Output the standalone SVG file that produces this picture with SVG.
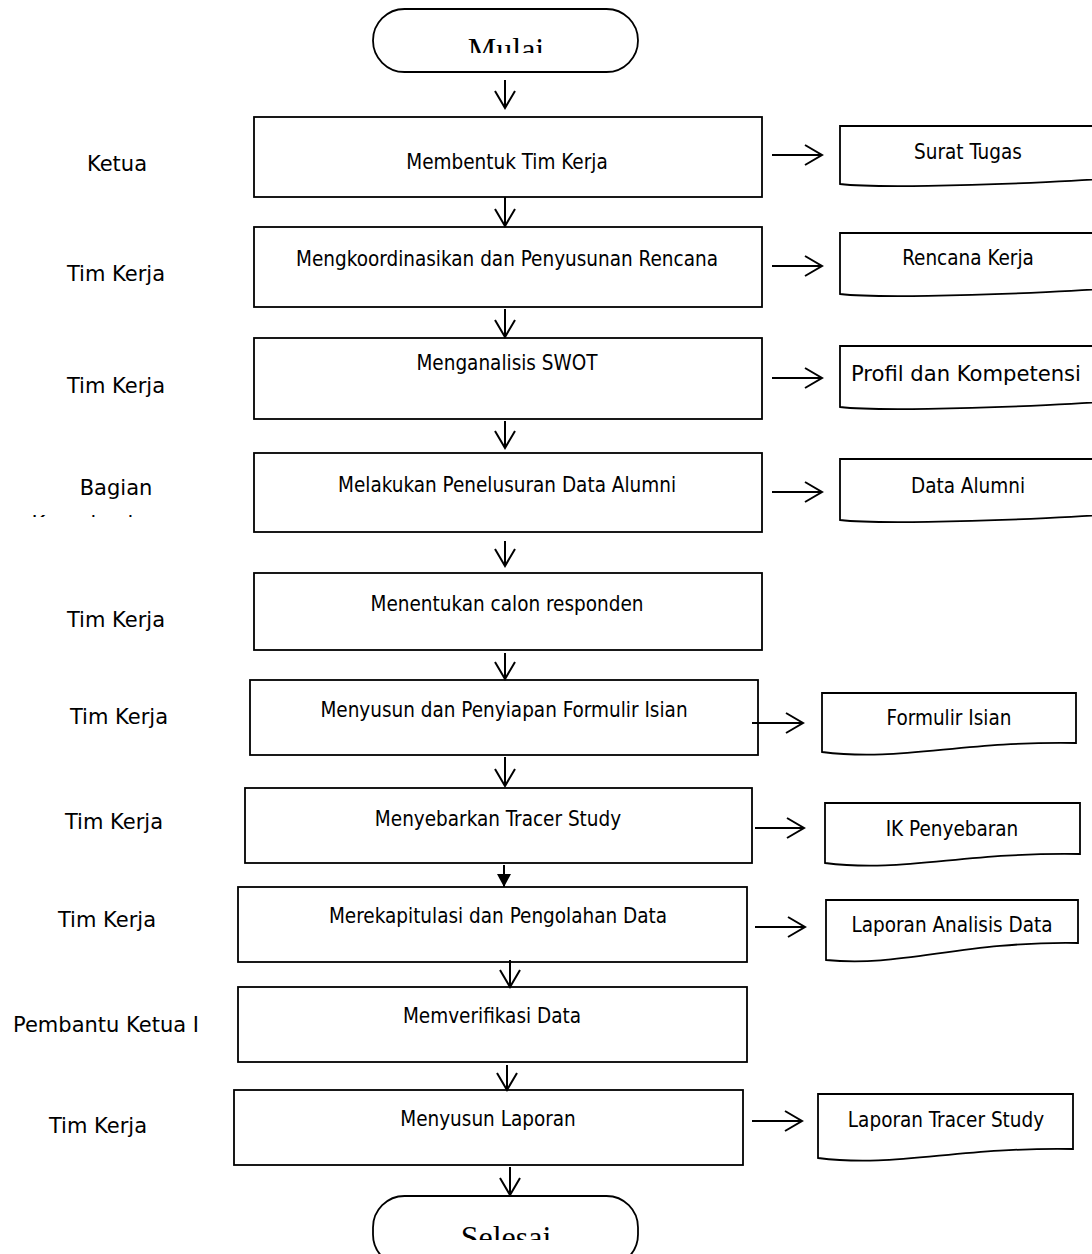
<svg xmlns="http://www.w3.org/2000/svg" width="1092" height="1254" viewBox="0 0 1092 1254">
<style>
.box{fill:#fff;stroke:#000;stroke-width:1.8}
.doc{fill:#fff;stroke:#000;stroke-width:1.8}
.t{font-family:"DejaVu Sans Condensed","DejaVu Sans",Verdana,sans-serif;font-stretch:condensed;font-size:20.5px;fill:#000;text-anchor:middle}
.lbl{font-family:"DejaVu Sans",Verdana,sans-serif;font-size:21px;fill:#000;text-anchor:middle}
.term{font-family:"Liberation Serif","Times New Roman",serif;font-size:32px;fill:#000;text-anchor:middle}
.c{stroke:#000;stroke-width:2;fill:none}
</style>
<defs>
<marker id="open" viewBox="0 0 20 22" refX="18" refY="11" markerWidth="20" markerHeight="22" markerUnits="userSpaceOnUse" orient="auto">
<path d="M1,1 L18,11 L1,21" fill="none" stroke="#000" stroke-width="2"/>
</marker>
<marker id="solid" viewBox="0 0 14 16" refX="13" refY="8" markerWidth="14" markerHeight="16" markerUnits="userSpaceOnUse" orient="auto">
<path d="M0,1 L13,8 L0,15 Z" fill="#000"/>
</marker>
<clipPath id="clipTop"><rect x="0" y="0" width="1092" height="53"/></clipPath>
<clipPath id="clipBot"><rect x="0" y="0" width="1092" height="1240"/></clipPath>
<clipPath id="clipBag"><rect x="0" y="0" width="300" height="517"/></clipPath>
</defs>

<g id="mulai">
<rect x="373" y="9" width="265" height="63" rx="31.5" ry="31.5" class="box"/>
<text x="506" y="60" class="term" clip-path="url(#clipTop)">Mulai</text>
</g>

<g id="n1">
<rect x="254" y="117" width="508" height="80" class="box"/>
<text x="507" y="169" class="t">Membentuk Tim Kerja</text>
</g>
<g id="n2">
<rect x="254" y="227" width="508" height="80" class="box"/>
<text x="507" y="266" class="t">Mengkoordinasikan dan Penyusunan Rencana</text>
</g>
<g id="n3">
<rect x="254" y="338" width="508" height="81" class="box"/>
<text x="507" y="370" class="t">Menganalisis SWOT</text>
</g>
<g id="n4">
<rect x="254" y="453" width="508" height="79" class="box"/>
<text x="507" y="492" class="t">Melakukan Penelusuran Data Alumni</text>
</g>
<g id="n5">
<rect x="254" y="573" width="508" height="77" class="box"/>
<text x="507" y="611" class="t">Menentukan calon responden</text>
</g>
<g id="n6">
<rect x="250" y="680" width="508" height="75" class="box"/>
<text x="504" y="717" class="t">Menyusun dan Penyiapan Formulir Isian</text>
</g>
<g id="n7">
<rect x="245" y="788" width="507" height="75" class="box"/>
<text x="498" y="826" class="t">Menyebarkan Tracer Study</text>
</g>
<g id="n8">
<rect x="238" y="887" width="509" height="75" class="box"/>
<text x="498" y="923" class="t">Merekapitulasi dan Pengolahan Data</text>
</g>
<g id="n9">
<rect x="238" y="987" width="509" height="75" class="box"/>
<text x="492" y="1023" class="t">Memverifikasi Data</text>
</g>
<g id="n10">
<rect x="234" y="1090" width="509" height="75" class="box"/>
<text x="488" y="1126" class="t">Menyusun Laporan</text>
</g>

<g id="selesai">
<rect x="373" y="1196" width="265" height="70" rx="31.5" ry="31.5" class="box"/>
<text x="506" y="1248" class="term" clip-path="url(#clipBot)">Selesai</text>
</g>

<g id="d1">
<path class="doc" d="M840,126 H1096 V175 C1237,174 907,192 840,184 Z"/>
<text x="968" y="159" class="t">Surat Tugas</text>
</g>
<g id="d2">
<path class="doc" d="M840,233 H1096 V285 C1237,284 907,302 840,294 Z"/>
<text x="968" y="265" class="t">Rencana Kerja</text>
</g>
<g id="d3">
<path class="doc" d="M840,346 H1096 V398 C1237,397 907,415 840,407 Z"/>
<text x="966" y="381" class="t" textLength="230" lengthAdjust="spacingAndGlyphs">Profil dan Kompetensi</text>
</g>
<g id="d4">
<path class="doc" d="M840,459 H1096 V511 C1237,510 907,528 840,520 Z"/>
<text x="968" y="493" class="t">Data Alumni</text>
</g>
<g id="d5">
<path class="doc" d="M822,693 H1076 V743 C960,741 900,762 822,752 Z"/>
<text x="949" y="725" class="t">Formulir Isian</text>
</g>
<g id="d6">
<path class="doc" d="M825,803 H1080 V854 C963,852 903,873 825,863 Z"/>
<text x="952" y="836" class="t">IK Penyebaran</text>
</g>
<g id="d7">
<path class="doc" d="M826,900 H1078 V943 C961,941 901,968 826,960 Z"/>
<text x="952" y="932" class="t">Laporan Analisis Data</text>
</g>
<g id="d8">
<path class="doc" d="M818,1094 H1073 V1149 C956,1147 896,1168 818,1158 Z"/>
<text x="946" y="1127" class="t">Laporan Tracer Study</text>
</g>

<g id="lanes">
<text x="117" y="171" class="lbl">Ketua</text>
<text x="116" y="281" class="lbl">Tim Kerja</text>
<text x="116" y="393" class="lbl">Tim Kerja</text>
<text x="116" y="495" class="lbl">Bagian</text>
<text x="116" y="531" class="lbl" clip-path="url(#clipBag)">Kemahasiswaan</text>
<text x="116" y="627" class="lbl">Tim Kerja</text>
<text x="119" y="724" class="lbl">Tim Kerja</text>
<text x="114" y="829" class="lbl">Tim Kerja</text>
<text x="107" y="927" class="lbl">Tim Kerja</text>
<text x="106" y="1032" class="lbl">Pembantu Ketua I</text>
<text x="98" y="1133" class="lbl">Tim Kerja</text>
</g>

<g id="connectors">
<line class="c" x1="505" y1="80" x2="505" y2="108" marker-end="url(#open)"/>
<line class="c" x1="505" y1="197" x2="505" y2="226" marker-end="url(#open)"/>
<line class="c" x1="505" y1="309" x2="505" y2="337" marker-end="url(#open)"/>
<line class="c" x1="505" y1="421" x2="505" y2="448" marker-end="url(#open)"/>
<line class="c" x1="505" y1="541" x2="505" y2="566" marker-end="url(#open)"/>
<line class="c" x1="505" y1="653" x2="505" y2="679" marker-end="url(#open)"/>
<line class="c" x1="505" y1="757" x2="505" y2="786" marker-end="url(#open)"/>
<line class="c" x1="504" y1="865" x2="504" y2="887" marker-end="url(#solid)"/>
<line class="c" x1="510" y1="960" x2="510" y2="987" marker-end="url(#open)"/>
<line class="c" x1="507" y1="1065" x2="507" y2="1090" marker-end="url(#open)"/>
<line class="c" x1="510" y1="1167" x2="510" y2="1195" marker-end="url(#open)"/>
<line class="c" x1="772" y1="155" x2="822" y2="155" marker-end="url(#open)"/>
<line class="c" x1="772" y1="266" x2="822" y2="266" marker-end="url(#open)"/>
<line class="c" x1="772" y1="378" x2="822" y2="378" marker-end="url(#open)"/>
<line class="c" x1="772" y1="492" x2="822" y2="492" marker-end="url(#open)"/>
<line class="c" x1="752" y1="723" x2="803" y2="723" marker-end="url(#open)"/>
<line class="c" x1="755" y1="828" x2="804" y2="828" marker-end="url(#open)"/>
<line class="c" x1="755" y1="927" x2="805" y2="927" marker-end="url(#open)"/>
<line class="c" x1="752" y1="1121" x2="802" y2="1121" marker-end="url(#open)"/>
</g>
</svg>
